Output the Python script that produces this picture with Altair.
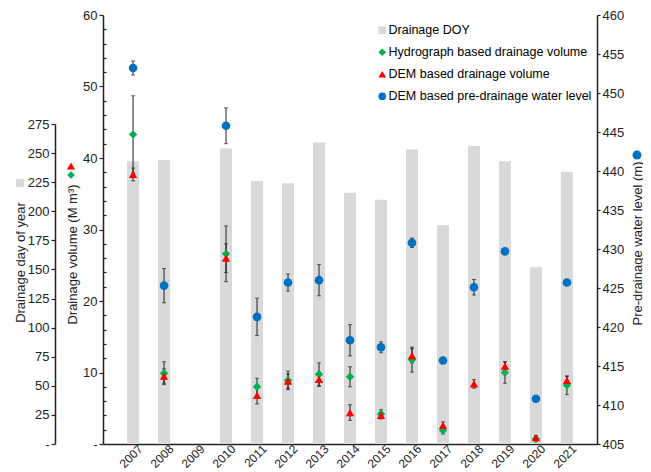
import altair as alt
import pandas as pd

# ---------------- data ----------------
years = ['2007', '2008', '2009', '2010', '2011', '2012', '2013', '2014',
         '2015', '2016', '2017', '2018', '2019', '2020', '2021']
doy = [243, 244, None, 254, 226, 224, 259, 216, 210, 253, 188, 256, 243, 152, 234]
hydro_vol = [43.3, 9.9, None, 26.6, 8.0, 8.9, 9.75, 9.4, 4.2, 11.8, 1.9, None, 10.0, 0.7, 8.2]
hydro_err = [5.4, 1.6, None, 3.9, 1.2, 1.3, 1.6, 1.4, 0.6, 1.75, 0.5, None, 1.5, 0.3, 1.3]
dem_vol = [37.7, 9.5, None, 26.0, 6.8, 8.8, 9.05, 4.4, 4.0, 12.35, 2.6, 8.4, 10.9, 0.9, 8.9]
dem_err = [0.9, 1.0, None, 2.0, 1.2, 1.0, 1.0, 1.1, 0.5, 1.0, 0.5, 0.6, 0.6, 0.3, 0.6]
level = [453.2, 425.3, None, 445.8, 421.3, 425.7, 426.0, 418.3, 417.4, 430.8, 415.7, 425.1, 429.7, 410.8, 425.7]
level_err = [0.9, 2.2, None, 2.3, 2.4, 1.1, 2.0, 2.0, 0.7, 0.6, 0.4, 1.0, 0.0, 0.0, 0.0]

S_DOY = 'Drainage DOY'
S_H = 'Hydrograph based drainage volume'
S_D = 'DEM based drainage volume'
S_L = 'DEM based pre-drainage water level'
series_names = [S_DOY, S_H, S_D, S_L]
series_colors = ['#d9d9d9', '#00b050', '#ff0000', '#0070c0']
series_shapes = ['square', 'diamond', 'triangle-up', 'circle']

vol_ticks = [0, 10, 20, 30, 40, 50, 60]
vol_minor = [v for v in range(2, 60, 2) if v % 10 != 0]
doy_ticks = [0, 25, 50, 75, 100, 125, 150, 175, 200, 225, 250, 275]
lvl_ticks = [405, 410, 415, 420, 425, 430, 435, 440, 445, 450, 455, 460]

# ---------------- tables ----------------
bars_df = pd.DataFrame({'year': years, 'doy': doy}).dropna()

vol_rows = []
for name, vals, errs in [(S_H, hydro_vol, hydro_err), (S_D, dem_vol, dem_err)]:
    for y, v, e in zip(years, vals, errs):
        if v is None:
            continue
        vol_rows.append({'year': y, 'series': name, 'value': v,
                         'lo': v - e, 'hi': v + e, 'err': e})
vol_df = pd.DataFrame(vol_rows)

lvl_rows = []
for y, v, e in zip(years, level, level_err):
    if v is None:
        continue
    lvl_rows.append({'year': y, 'series': S_L, 'value': v,
                     'lo': v - e, 'hi': v + e, 'err': e})
lvl_df = pd.DataFrame(lvl_rows)

# ---------------- shared encodings ----------------
FONT = 'Liberation Sans'
TXT = '#222222'
W, H = 494, 429

x_scale = alt.Scale(type='band', domain=years, paddingInner=0, paddingOuter=0.47)
x_axis = alt.Axis(title=None, labelAngle=-45, labelFontSize=12, ticks=False,
                  domainColor='#222222', domainWidth=1.5, labelColor=TXT,
                  labelPadding=-1, labelOffset=4)
X = alt.X('year:N', scale=x_scale, axis=x_axis)

color_enc = alt.Color('series:N', scale=alt.Scale(domain=series_names, range=series_colors),
                      legend=alt.Legend(orient='none', legendX=273, legendY=9, title=None,
                                        labelFontSize=12.5, labelColor='#000000', symbolSize=60,
                                        rowPadding=9, labelOffset=0, symbolStrokeWidth=0,
                                        labelFont=FONT, labelLimit=0))
shape_enc = alt.Shape('series:N', scale=alt.Scale(domain=series_names, range=series_shapes),
                      legend=None)

# DOY (left outer axis)
doy_scale = alt.Scale(domain=[0, 275], range=[H, 109], nice=False, zero=True)
doy_axis = alt.Axis(orient='left', offset=48, values=doy_ticks, grid=False,
                    labelExpr="datum.value == 0 ? '-' : datum.label",
                    title='Drainage day of year', titleAngle=270, titleX=-35, titleY=247,
                    titleAlign='center', titleBaseline='middle', titleFontSize=13,
                    titleFontWeight='normal', tickSize=4, labelFontSize=13)

bars = alt.Chart(bars_df).mark_bar(size=12, color='#d9d9d9').encode(
    x=X, y=alt.Y('doy:Q', scale=doy_scale, axis=doy_axis))

# Volume (left axis)
vol_scale = alt.Scale(domain=[0, 60], nice=False, zero=True)
vol_axis = alt.Axis(orient='left', values=vol_ticks, grid=False,
                    labelExpr="datum.value == 0 ? '-' : datum.label",
                    title='Drainage volume (M m³)', titleAngle=270, titleX=-31, titleY=239,
                    titleAlign='center', titleBaseline='middle', titleFontSize=13,
                    titleFontWeight='normal', tickSize=4, labelFontSize=13)


def yv(field):
    return alt.Y(field, scale=vol_scale, axis=vol_axis)


vol_err_df = vol_df[vol_df['err'] > 0]
vol_rule = alt.Chart(vol_err_df).mark_rule(color='#222222', strokeWidth=1).encode(
    x=X, y=yv('lo:Q'), y2='hi:Q')
vol_cap_lo = alt.Chart(vol_err_df).mark_tick(color='#222222', thickness=1, size=4).encode(
    x=X, y=yv('lo:Q'))
vol_cap_hi = alt.Chart(vol_err_df).mark_tick(color='#222222', thickness=1, size=4).encode(
    x=X, y=yv('hi:Q'))
vol_pts = alt.Chart(vol_df).mark_point(filled=True, size=70, opacity=1).encode(
    x=X, y=yv('value:Q'), color=color_enc, shape=shape_enc)
vol_layer = alt.layer(vol_rule, vol_cap_lo, vol_cap_hi, vol_pts)

# Minor ticks on volume axis
minor_layer = alt.Chart(vol_df).mark_point(opacity=0).encode(
    x=X,
    y=alt.Y('value:Q', scale=alt.Scale(domain=[0, 60], nice=False, zero=True),
            axis=alt.Axis(orient='left', values=vol_minor, labels=False, domain=False,
                          grid=False, tickSize=3, offset=-3, title=None)))

# Level (right axis)
lvl_scale = alt.Scale(domain=[405, 460], nice=False, zero=False)
lvl_axis = alt.Axis(orient='right', values=lvl_ticks, grid=False,
                    title='Pre-drainage water level (m)', titleAngle=270, titleX=40, titleY=228,
                    titleAlign='center', titleBaseline='middle', titleFontSize=13,
                    titleFontWeight='normal', tickSize=3, labelFontSize=13)


def yl(field):
    return alt.Y(field, scale=lvl_scale, axis=lvl_axis)


lvl_err_df = lvl_df[lvl_df['err'] > 0]
lvl_rule = alt.Chart(lvl_err_df).mark_rule(color='#222222', strokeWidth=1).encode(
    x=X, y=yl('lo:Q'), y2='hi:Q')
lvl_cap_lo = alt.Chart(lvl_err_df).mark_tick(color='#222222', thickness=1, size=4).encode(
    x=X, y=yl('lo:Q'))
lvl_cap_hi = alt.Chart(lvl_err_df).mark_tick(color='#222222', thickness=1, size=4).encode(
    x=X, y=yl('hi:Q'))
lvl_pts = alt.Chart(lvl_df).mark_point(filled=True, size=75, opacity=1).encode(
    x=X, y=yl('value:Q'), color=color_enc, shape=shape_enc)
lvl_layer = alt.layer(lvl_rule, lvl_cap_lo, lvl_cap_hi, lvl_pts)

# Symbols next to the axis titles (legend keys)
one = pd.DataFrame({'k': [0]})
key_doy = alt.Chart(one).mark_point(shape='square', filled=True, size=64, opacity=1,
                                    color='#d9d9d9').encode(x=alt.value(-83), y=alt.value(168))
key_dem = alt.Chart(one).mark_point(shape='triangle-up', filled=True, size=70, opacity=1,
                                    color='#ff0000').encode(x=alt.value(-32), y=alt.value(151))
key_hyd = alt.Chart(one).mark_point(shape='diamond', filled=True, size=60, opacity=1,
                                    color='#00b050').encode(x=alt.value(-32), y=alt.value(160))
key_lvl = alt.Chart(one).mark_point(shape='circle', filled=True, size=80, opacity=1,
                                    color='#0070c0').encode(x=alt.value(534), y=alt.value(140))

chart = alt.layer(
    bars, minor_layer, vol_layer, lvl_layer, key_doy, key_dem, key_hyd, key_lvl
).resolve_scale(y='independent').properties(
    width=W, height=H,
    autosize=alt.AutoSizeParams(type='none'),
    padding={'left': 95, 'top': 7, 'right': 46, 'bottom': 40},
).configure(font=FONT).configure_view(stroke=None).configure_axis(
    labelFont=FONT, titleFont=FONT, labelColor=TXT, titleColor=TXT,
    domainColor='#222222', tickColor='#222222', domainWidth=1.5, tickWidth=1.2
)

chart.save('out.html', embed_options={'renderer': 'svg', 'actions': False})
